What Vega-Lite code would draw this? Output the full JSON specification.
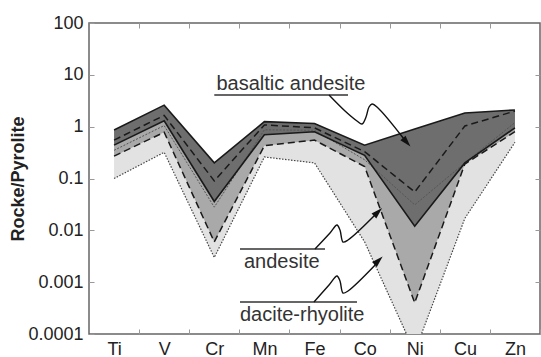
{
  "$schema": "https://vega.github.io/schema/vega-lite/v6.json",
  "width": 451,
  "height": 311,
  "autosize": {"type": "none"},
  "padding": {"left": 89, "top": 23, "right": 1, "bottom": 23},
  "background": "white",
  "config": {
    "view": {"stroke": "#666", "strokeWidth": 1.5},
    "font": "Liberation Sans",
    "axis": {"domain": false, "grid": false, "tickColor": "#999", "tickWidth": 1}
  },
  "datasets": {
    "geo": [
      {"el": "Ti", "i": 1, "ba_max": 0.86, "an_max": 0.55, "ba_min": 0.44, "dr_max": 0.35, "an_min": 0.27, "dr_min": 0.1},
      {"el": "V", "i": 2, "ba_max": 2.6, "an_max": 1.65, "ba_min": 1.3, "dr_max": 1.05, "an_min": 0.78, "dr_min": 0.32},
      {"el": "Cr", "i": 3, "ba_max": 0.2, "an_max": 0.09, "ba_min": 0.036, "dr_max": 0.028, "an_min": 0.006, "dr_min": 0.003},
      {"el": "Mn", "i": 4, "ba_max": 1.25, "an_max": 1.08, "ba_min": 0.7, "dr_max": 0.87, "an_min": 0.43, "dr_min": 0.26},
      {"el": "Fe", "i": 5, "ba_max": 1.15, "an_max": 0.95, "ba_min": 0.8, "dr_max": 0.85, "an_min": 0.55, "dr_min": 0.2},
      {"el": "Co", "i": 6, "ba_max": 0.44, "an_max": 0.33, "ba_min": 0.28, "dr_max": 0.23, "an_min": 0.17, "dr_min": 0.006},
      {"el": "Ni", "i": 7, "ba_max": 0.9, "an_max": 0.055, "ba_min": 0.012, "dr_max": 0.031, "an_min": 0.0004, "dr_min": 0.000045},
      {"el": "Cu", "i": 8, "ba_max": 1.83, "an_max": 1.03, "ba_min": 0.2, "dr_max": 0.2, "an_min": 0.19, "dr_min": 0.017},
      {"el": "Zn", "i": 9, "ba_max": 2.1, "an_max": 2.0, "ba_min": 0.95, "dr_max": 1.2, "an_min": 0.8, "dr_min": 0.5}
    ],
    "labels": [
      {"t": "basaltic andesite", "x": 3.044, "y": 5.097},
      {"t": "andesite", "x": 3.593, "y": 0.001875},
      {"t": "dacite-rhyolite", "x": 3.513, "y": 0.000178}
    ],
    "underlines": [
      {"t": "basaltic andesite", "x": 3.0, "x2": 5.669, "y": 4.08},
      {"t": "andesite", "x": 3.513, "x2": 5.21, "y": 0.00436},
      {"t": "dacite-rhyolite", "x": 3.513, "x2": 5.848, "y": 0.000414}
    ],
    "arrows": [
      {"a": "basaltic andesite", "k": 0, "x": 5.29, "y": 4.08},
      {"a": "basaltic andesite", "k": 1, "x": 5.609, "y": 2.005},
      {"a": "basaltic andesite", "k": 2, "x": 5.848, "y": 1.286},
      {"a": "basaltic andesite", "k": 3, "x": 5.948, "y": 1.125},
      {"a": "basaltic andesite", "k": 4, "x": 6.028, "y": 1.536},
      {"a": "basaltic andesite", "k": 5, "x": 6.088, "y": 2.395},
      {"a": "basaltic andesite", "k": 6, "x": 6.148, "y": 2.736},
      {"a": "basaltic andesite", "k": 7, "x": 6.268, "y": 2.291},
      {"a": "basaltic andesite", "k": 8, "x": 6.786, "y": 0.578},
      {"a": "andesite", "k": 0, "x": 5.01, "y": 0.00436},
      {"a": "andesite", "k": 1, "x": 5.309, "y": 0.00888},
      {"a": "andesite", "k": 2, "x": 5.449, "y": 0.01267},
      {"a": "andesite", "k": 3, "x": 5.509, "y": 0.01014},
      {"a": "andesite", "k": 4, "x": 5.569, "y": 0.005953},
      {"a": "andesite", "k": 5, "x": 5.669, "y": 0.00651},
      {"a": "andesite", "k": 6, "x": 6.287, "y": 0.02359},
      {"a": "dacite-rhyolite", "k": 0, "x": 4.99, "y": 0.000414},
      {"a": "dacite-rhyolite", "k": 1, "x": 5.29, "y": 0.000881},
      {"a": "dacite-rhyolite", "k": 2, "x": 5.449, "y": 0.001314},
      {"a": "dacite-rhyolite", "k": 3, "x": 5.509, "y": 0.001052},
      {"a": "dacite-rhyolite", "k": 4, "x": 5.569, "y": 0.000617},
      {"a": "dacite-rhyolite", "k": 5, "x": 5.669, "y": 0.000675},
      {"a": "dacite-rhyolite", "k": 6, "x": 6.287, "y": 0.002559}
    ],
    "heads": [
      {"a": "basaltic andesite", "x": 6.84, "y": 0.501},
      {"a": "andesite", "x": 6.268, "y": 0.02256},
      {"a": "dacite-rhyolite", "x": 6.278, "y": 0.002617}
    ]
  },
  "resolve": {"axis": {"x": "independent", "y": "independent"}},
  "layer": [
    {
      "data": {"name": "geo"},
      "mark": {"type": "area", "color": "#e2e2e2", "clip": true},
      "encoding": {
        "x": {
          "field": "i", "type": "quantitative",
          "scale": {"domain": [0.5, 9.5], "nice": false, "zero": false},
          "axis": {
            "orient": "bottom", "title": null,
            "values": [1.5, 2.5, 3.5, 4.5, 5.5, 6.5, 7.5, 8.5, 9.5],
            "labelExpr": "['Ti','V','Cr','Mn','Fe','Co','Ni','Cu','Zn'][round(datum.value - 1.5)]",
            "labelOffset": -25, "labelFlush": false, "labelOverlap": false, "labelBound": false,
            "tickSize": -5, "labelPadding": 11,
            "labelFontSize": 18, "labelColor": "#222", "labelFont": "Liberation Sans"
          }
        },
        "y": {
          "field": "dr_min", "type": "quantitative",
          "scale": {"type": "log", "domain": [0.0001, 100], "nice": false},
          "axis": {
            "orient": "left", "title": "Rocke/Pyrolite",
            "values": [0.0001, 0.001, 0.01, 0.1, 1, 10, 100],
            "format": "~g", "labelOverlap": false, "labelFlush": false,
            "tickSize": -5, "labelPadding": 11,
            "labelFontSize": 18, "labelColor": "#222", "labelFont": "Liberation Sans",
            "titleFontSize": 18, "titleFontWeight": "bold", "titleColor": "#222",
            "titleFont": "Liberation Sans", "titlePadding": 0
          }
        },
        "y2": {"field": "dr_max"}
      }
    },
    {
      "data": {"name": "geo"},
      "mark": {"type": "area", "color": "#a9a9a9", "clip": true},
      "encoding": {
        "x": {"field": "i", "type": "quantitative", "scale": {"domain": [0.5, 9.5], "nice": false, "zero": false}, "axis": null},
        "y": {"field": "an_min", "type": "quantitative", "scale": {"type": "log", "domain": [0.0001, 100], "nice": false}, "axis": null},
        "y2": {"field": "an_max"}
      }
    },
    {
      "data": {"name": "geo"},
      "mark": {"type": "area", "color": "#6e6e6e", "clip": true},
      "encoding": {
        "x": {"field": "i", "type": "quantitative", "scale": {"domain": [0.5, 9.5], "nice": false, "zero": false}, "axis": null},
        "y": {"field": "ba_min", "type": "quantitative", "scale": {"type": "log", "domain": [0.0001, 100], "nice": false}, "axis": null},
        "y2": {"field": "ba_max"}
      }
    },
    {
      "data": {"name": "geo"},
      "mark": {"type": "line", "color": "#555", "strokeWidth": 1, "strokeDash": [2, 1.5], "clip": true},
      "encoding": {
        "x": {"field": "i", "type": "quantitative", "scale": {"domain": [0.5, 9.5], "nice": false, "zero": false}, "axis": null},
        "y": {"field": "dr_max", "type": "quantitative", "scale": {"type": "log", "domain": [0.0001, 100], "nice": false}, "axis": null}
      }
    },
    {
      "data": {"name": "geo"},
      "mark": {"type": "line", "color": "#444", "strokeWidth": 1.2, "strokeDash": [1.5, 1.5], "clip": true},
      "encoding": {
        "x": {"field": "i", "type": "quantitative", "scale": {"domain": [0.5, 9.5], "nice": false, "zero": false}, "axis": null},
        "y": {"field": "dr_min", "type": "quantitative", "scale": {"type": "log", "domain": [0.0001, 100], "nice": false}, "axis": null}
      }
    },
    {
      "data": {"name": "geo"},
      "mark": {"type": "line", "color": "#1a1a1a", "strokeWidth": 1.5, "strokeDash": [7, 4], "clip": true},
      "encoding": {
        "x": {"field": "i", "type": "quantitative", "scale": {"domain": [0.5, 9.5], "nice": false, "zero": false}, "axis": null},
        "y": {"field": "an_min", "type": "quantitative", "scale": {"type": "log", "domain": [0.0001, 100], "nice": false}, "axis": null}
      }
    },
    {
      "data": {"name": "geo"},
      "mark": {"type": "line", "color": "#1a1a1a", "strokeWidth": 1.5, "strokeDash": [7, 4], "clip": true},
      "encoding": {
        "x": {"field": "i", "type": "quantitative", "scale": {"domain": [0.5, 9.5], "nice": false, "zero": false}, "axis": null},
        "y": {"field": "an_max", "type": "quantitative", "scale": {"type": "log", "domain": [0.0001, 100], "nice": false}, "axis": null}
      }
    },
    {
      "data": {"name": "geo"},
      "mark": {"type": "line", "color": "#1a1a1a", "strokeWidth": 1.6, "clip": true},
      "encoding": {
        "x": {"field": "i", "type": "quantitative", "scale": {"domain": [0.5, 9.5], "nice": false, "zero": false}, "axis": null},
        "y": {"field": "ba_min", "type": "quantitative", "scale": {"type": "log", "domain": [0.0001, 100], "nice": false}, "axis": null}
      }
    },
    {
      "data": {"name": "geo"},
      "mark": {"type": "line", "color": "#1a1a1a", "strokeWidth": 1.6, "clip": true},
      "encoding": {
        "x": {
          "field": "i", "type": "quantitative",
          "scale": {"domain": [0.5, 9.5], "nice": false, "zero": false},
          "axis": {"orient": "top", "title": null, "labels": false, "values": [1.5, 2.5, 3.5, 4.5, 5.5, 6.5, 7.5, 8.5], "tickSize": -5}
        },
        "y": {
          "field": "ba_max", "type": "quantitative",
          "scale": {"type": "log", "domain": [0.0001, 100], "nice": false},
          "axis": {"orient": "right", "title": null, "labels": false, "values": [0.001, 0.01, 0.1, 1, 10], "tickSize": -5}
        }
      }
    },
    {
      "data": {"name": "underlines"},
      "mark": {"type": "rule", "color": "#333", "strokeWidth": 1.5},
      "encoding": {
        "x": {"field": "x", "type": "quantitative", "scale": {"domain": [0.5, 9.5], "nice": false, "zero": false}, "axis": null},
        "x2": {"field": "x2"},
        "y": {"field": "y", "type": "quantitative", "scale": {"type": "log", "domain": [0.0001, 100], "nice": false}, "axis": null}
      }
    },
    {
      "data": {"name": "labels"},
      "mark": {"type": "text", "align": "left", "baseline": "alphabetic", "fontSize": 20, "font": "Liberation Sans", "color": "#333"},
      "encoding": {
        "x": {"field": "x", "type": "quantitative", "scale": {"domain": [0.5, 9.5], "nice": false, "zero": false}, "axis": null},
        "y": {"field": "y", "type": "quantitative", "scale": {"type": "log", "domain": [0.0001, 100], "nice": false}, "axis": null},
        "text": {"field": "t"}
      }
    },
    {
      "data": {"name": "arrows"},
      "mark": {"type": "line", "color": "#111", "strokeWidth": 1.4, "interpolate": "catmull-rom"},
      "encoding": {
        "x": {"field": "x", "type": "quantitative", "scale": {"domain": [0.5, 9.5], "nice": false, "zero": false}, "axis": null},
        "y": {"field": "y", "type": "quantitative", "scale": {"type": "log", "domain": [0.0001, 100], "nice": false}, "axis": null},
        "detail": {"field": "a"},
        "order": {"field": "k"}
      }
    },
    {
      "data": {"name": "heads"},
      "transform": [{"filter": "datum.a === 'basaltic andesite'"}],
      "mark": {"type": "point", "shape": "M0,-1L0.6,1L-0.6,1Z", "filled": true, "color": "#111", "opacity": 1, "size": 130, "angle": 139},
      "encoding": {
        "x": {"field": "x", "type": "quantitative", "scale": {"domain": [0.5, 9.5], "nice": false, "zero": false}, "axis": null},
        "y": {"field": "y", "type": "quantitative", "scale": {"type": "log", "domain": [0.0001, 100], "nice": false}, "axis": null}
      }
    },
    {
      "data": {"name": "heads"},
      "transform": [{"filter": "datum.a !== 'basaltic andesite'"}],
      "mark": {"type": "point", "shape": "M0,-1L0.6,1L-0.6,1Z", "filled": true, "color": "#111", "opacity": 1, "size": 130, "angle": 46},
      "encoding": {
        "x": {"field": "x", "type": "quantitative", "scale": {"domain": [0.5, 9.5], "nice": false, "zero": false}, "axis": null},
        "y": {"field": "y", "type": "quantitative", "scale": {"type": "log", "domain": [0.0001, 100], "nice": false}, "axis": null}
      }
    }
  ]
}
